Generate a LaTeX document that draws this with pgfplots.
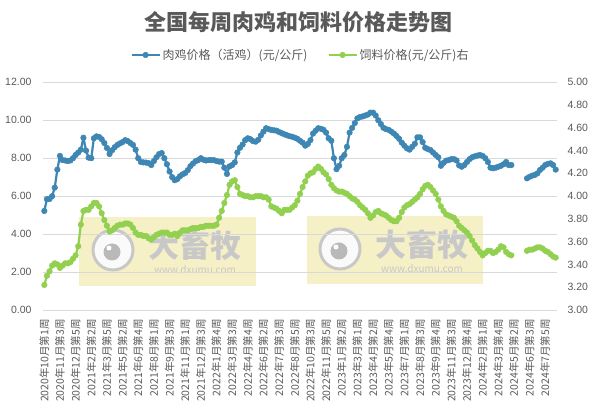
\documentclass[border=0pt]{standalone}
\usepackage{fontspec}
\setmainfont{Noto Sans CJK SC}
\newfontfamily\numfont{Liberation Sans}
\usepackage{pgfplots}
\usepackage{pgfplotstable}
\pgfplotsset{compat=1.18}
\definecolor{cblue}{RGB}{62,134,179}
\definecolor{cgreen}{RGB}{146,208,80}
\definecolor{ctext}{RGB}{89,89,89}
\definecolor{cgrid}{RGB}{217,217,217}
\definecolor{wmbox}{RGB}{246,240,198}
\definecolor{wmtext}{RGB}{200,200,200}

\pgfplotstableread{
i b g
0 5.22 3.22
1 5.84 3.30
2 5.85 3.34
3 6.00 3.39
4 6.45 3.41
5 7.40 3.40
6 8.12 3.37
7 7.90 3.39
8 7.88 3.41
9 7.85 3.41
10 7.88 3.42
11 8.00 3.45
12 8.17 3.48
13 8.30 3.56
14 8.45 3.75
15 9.08 3.87
16 8.40 3.88
17 8.03 3.88
18 8.00 3.91
19 9.05 3.94
20 9.15 3.94
21 9.12 3.91
22 9.00 3.85
23 8.80 3.79
24 8.54 3.74
25 8.22 3.69
26 8.42 3.70
27 8.58 3.72
28 8.70 3.74
29 8.78 3.75
30 8.85 3.75
31 8.95 3.76
32 8.90 3.76
33 8.80 3.75
34 8.70 3.72
35 8.45 3.68
36 8.00 3.66
37 7.80 3.66
38 7.78 3.65
39 7.77 3.65
40 7.74 3.63
41 7.64 3.62
42 7.85 3.64
43 8.05 3.66
44 8.22 3.67
45 8.27 3.68
46 8.00 3.68
47 7.68 3.68
48 7.30 3.66
49 7.00 3.66
50 6.84 3.67
51 6.90 3.65
52 7.05 3.68
53 7.15 3.70
54 7.22 3.70
55 7.37 3.70
56 7.58 3.71
57 7.72 3.72
58 7.84 3.72
59 7.90 3.72
60 8.00 3.73
61 7.92 3.73
62 7.88 3.74
63 7.90 3.74
64 7.90 3.74
65 7.90 3.74
66 7.85 3.75
67 7.82 3.81
68 7.82 3.87
69 7.50 3.94
70 7.17 4.01
71 7.57 4.10
72 7.64 4.13
73 7.78 4.14
74 8.30 4.08
75 8.55 4.02
76 8.72 4.01
77 8.95 4.00
78 9.05 4.00
79 9.00 3.99
80 8.90 3.99
81 8.87 4.00
82 8.97 4.00
83 9.20 4.00
84 9.40 3.99
85 9.58 3.99
86 9.53 3.97
87 9.49 3.91
88 9.47 3.90
89 9.45 3.89
90 9.38 3.87
91 9.32 3.85
92 9.26 3.88
93 9.21 3.88
94 9.16 3.88
95 9.13 3.90
96 9.08 3.92
97 9.02 3.96
98 8.92 4.02
99 8.82 4.08
100 8.66 4.13
101 8.75 4.18
102 8.95 4.20
103 9.30 4.21
104 9.45 4.24
105 9.58 4.26
106 9.55 4.24
107 9.50 4.21
108 9.35 4.19
109 9.05 4.15
110 8.92 4.10
111 8.00 4.07
112 7.42 4.05
113 7.60 4.04
114 8.00 4.04
115 8.17 4.03
116 8.60 4.02
117 9.35 4.00
118 9.60 3.98
119 9.85 3.97
120 10.10 3.95
121 10.17 3.92
122 10.20 3.90
123 10.25 3.88
124 10.30 3.85
125 10.40 3.81
126 10.40 3.83
127 10.25 3.86
128 10.00 3.87
129 9.80 3.85
130 9.60 3.84
131 9.53 3.83
132 9.49 3.81
133 9.40 3.79
134 9.30 3.78
135 9.17 3.78
136 9.02 3.81
137 8.82 3.86
138 8.66 3.90
139 8.52 3.92
140 8.45 3.93
141 8.60 3.95
142 8.76 3.97
143 9.10 3.99
144 9.10 4.02
145 8.85 4.06
146 8.55 4.09
147 8.48 4.10
148 8.43 4.08
149 8.30 4.05
150 8.17 4.02
151 8.05 3.97
152 7.60 3.91
153 7.75 3.87
154 7.87 3.84
155 7.90 3.83
156 7.95 3.82
157 7.95 3.81
158 7.88 3.78
159 7.62 3.74
160 7.55 3.72
161 7.64 3.70
162 7.80 3.68
163 7.95 3.65
164 8.05 3.61
165 8.10 3.57
166 8.14 3.54
167 8.17 3.51
168 8.12 3.48
169 8.00 3.50
170 7.80 3.52
171 7.50 3.52
172 7.47 3.50
173 7.50 3.51
174 7.55 3.53
175 7.60 3.56
176 7.68 3.55
177 7.80 3.51
178 7.64 3.49
179 7.64 3.48
180 nan nan
181 nan nan
182 nan nan
183 nan nan
184 nan nan
185 6.94 3.52
186 7.02 3.53
187 7.08 3.53
188 7.12 3.54
189 7.20 3.55
190 7.38 3.55
191 7.50 3.54
192 7.64 3.52
193 7.70 3.51
194 7.73 3.49
195 7.64 3.47
196 7.40 3.46
}\datatable

\pgfplotsset{
  common/.style={
    at={(43pt,105pt)}, anchor=south west,
    scale only axis, width=514pt, height=227.7pt,
    xmin=-0.5, xmax=196.5,
    unbounded coords=jump,
    major tick length=0pt,
    axis line style={draw=none},
    tick label style={color=ctext},
  },
  bstyle/.style={color=cblue, line width=2.2pt, mark=*, mark size=2.8pt, mark options={solid, fill=cblue, draw=cblue, line width=0.5pt}, line join=round},
  gstyle/.style={color=cgreen, line width=2.2pt, mark=*, mark size=2.8pt, mark options={solid, fill=cgreen, draw=cgreen, line width=0.5pt}, line join=round},
}

\begin{document}
\begin{tikzpicture}
\path[use as bounding box] (0pt,0pt) rectangle (597pt,415pt);
% watermark boxes
\fill[wmbox] (79pt,129pt) rectangle (256pt,198pt);
\fill[wmbox] (307pt,131pt) rectangle (483pt,199pt);
\foreach \dx/\dy in {0/0, 227/1} {
  \begin{scope}[xshift=\dx pt, yshift=\dy pt]
    \fill[white!96!gray] (113pt,165pt) circle (20pt);
    \draw[wmtext, line width=3pt] (113pt,165pt) circle (20pt);
    \fill[gray!55] (112pt,163pt) circle (8.5pt);
    \fill[white] (109pt,167pt) circle (2.5pt);
    \node[wmtext, font=\fontsize{31}{34}\selectfont\bfseries, inner sep=0pt] at (195pt,169pt) {大畜牧};
    \node[wmtext, font=\fontsize{10}{12}\selectfont, inner sep=0pt] at (195pt,145pt) {www.dxumu.com};
  \end{scope}
}
% title
\node[ctext, font=\fontsize{22}{25}\selectfont\bfseries, inner sep=0pt] at (298.5pt,393pt) {全国每周肉鸡和饲料价格走势图};

\begin{axis}[common,
  ymin=0, ymax=12, ytick={0,2,4,6,8,10,12},
  ymajorgrids, grid style={cgrid, line width=0.8pt},
  yticklabel style={font=\numfont\fontsize{10.5}{12}\selectfont, /pgf/number format/.cd, fixed, fixed zerofill, precision=2, assume math mode=true},
  yticklabel shift=8pt,
  xtick={0,6,...,192},
  xticklabels={2020年10月第1周,2020年11月第3周,2020年12月第5周,2021年2月第2周,2021年3月第5周,2021年5月第2周,2021年6月第4周,2021年8月第1周,2021年9月第3周,2021年11月第1周,2021年12月第3周,2022年1月第4周,2022年3月第3周,2022年4月第4周,2022年6月第2周,2022年7月第3周,2022年8月第5周,2022年10月第3周,2022年11月第5周,2023年1月第2周,2023年3月第1周,2023年4月第2周,2023年5月第4周,2023年7月第1周,2023年8月第3周,2023年9月第4周,2023年11月第3周,2023年12月第4周,2024年2月第1周,2024年3月第4周,2024年5月第2周,2024年6月第3周,2024年7月第5周},
  xticklabel style={rotate=90, anchor=east, font=\fontsize{10.5}{12}\selectfont, inner sep=0pt},
  xticklabel shift=9pt,
]
\addplot[bstyle] table[x=i, y=b] {\datatable};
\end{axis}

\begin{axis}[common,
  ymin=3, ymax=5, ytick={3,3.2,3.4,3.6,3.8,4,4.2,4.4,4.6,4.8,5},
  yticklabel pos=right,
  yticklabel style={font=\numfont\fontsize{10.5}{12}\selectfont, /pgf/number format/.cd, fixed, fixed zerofill, precision=2, assume math mode=true},
  yticklabel shift=7pt,
  xtick=\empty,
  legend columns=2,
  legend style={at={(0.501,1.12)}, anchor=center, draw=none, fill=none, font=\fontsize{12}{14}\selectfont, text=ctext, /tikz/every even column/.append style={column sep=18pt}},
  legend image code/.code={\draw[mark repeat=2, mark phase=2, #1] plot coordinates {(0pt,0pt) (14pt,0pt) (28pt,0pt)};},
]
\addlegendimage{bstyle}
\addlegendentry{肉鸡价格（活鸡）(元/公斤)}
\addplot[gstyle] table[x=i, y=g] {\datatable};
\addlegendentry{饲料价格(元/公斤)右}
\end{axis}
\end{tikzpicture}
\end{document}
